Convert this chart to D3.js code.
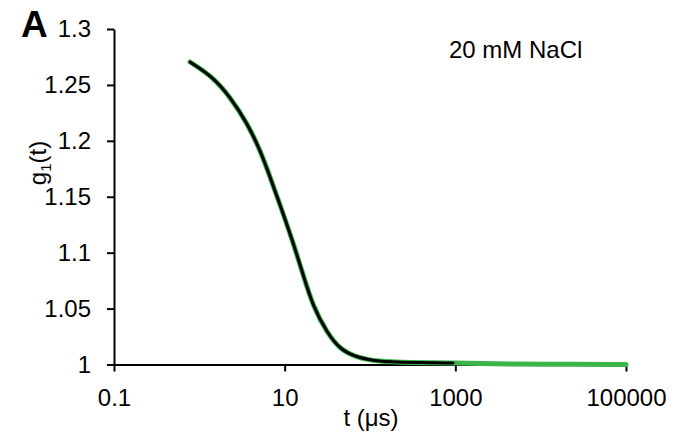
<!DOCTYPE html>
<html>
<head>
<meta charset="utf-8">
<script src="https://cdn.jsdelivr.net/npm/d3@7"></script>
<style>
  html, body { margin: 0; padding: 0; background: #fff; }
  svg { display: block; }
  text { font-family: "Liberation Sans", Arial, Helvetica, sans-serif; fill: #000; }
</style>
</head>
<body>
<svg id="chart" width="681" height="432"></svg>
<script>
// Measured correlation data (black) and fit (green)
const tData = [0.778, 1.446, 2.29, 3.62, 5.14, 6.73, 8.82, 12.5, 16.4, 21.5, 31.3, 44.5, 70.5, 121, 294, 940];
const gData = [1.2705, 1.2571, 1.2393, 1.2161, 1.192, 1.1679, 1.1429, 1.1096, 1.0806, 1.0518, 1.0286, 1.0134, 1.0063, 1.0027, 1.0018, 1.0013];
const tFit = [0.778, 1.446, 2.29, 3.62, 5.14, 6.73, 8.82, 12.5, 16.4, 21.5, 31.3, 44.5, 70.5, 121, 294, 940, 3000, 10000, 100000];
const gFit = [1.2705, 1.2571, 1.2393, 1.2161, 1.192, 1.1679, 1.1429, 1.1096, 1.0806, 1.0518, 1.0286, 1.0134, 1.0063, 1.0027, 1.0018, 1.0013, 1.0006, 1.0002, 1.0000];

const xTicks = [0.1, 10, 1000, 100000];
const xTickLabels = ["0.1", "10", "1000", "100000"];
const yTicks = [1, 1.05, 1.1, 1.15, 1.2, 1.25, 1.3];
const yTickLabels = ["1", "1.05", "1.1", "1.15", "1.2", "1.25", "1.3"];

const panelLabel = "A";
const conditionLabel = "20 mM NaCl";
const xLabel = "t (\u03bcs)";

const svg = d3.select("#chart");
const x = d3.scaleLog().domain([0.1, 100000]).range([114, 626]);
const y = d3.scaleLinear().domain([1, 1.3]).range([364.5, 29]);

// Axes
const xAxis = d3.axisBottom(x).tickValues(xTicks)
  .tickFormat((d, i) => xTickLabels[i]).tickSize(7).tickSizeOuter(0).tickPadding(17);
const yAxis = d3.axisLeft(y).tickValues(yTicks)
  .tickFormat((d, i) => yTickLabels[i]).tickSize(7).tickSizeOuter(0).tickPadding(16);

const gx = svg.append("g").attr("transform", `translate(0,${y(1)})`).call(xAxis);
const gy = svg.append("g").attr("transform", `translate(${x(0.1)},0)`).call(yAxis);

[gx, gy].forEach(g => {
  g.selectAll("path.domain").attr("stroke", "#000").attr("stroke-width", 2);
  g.selectAll(".tick line").attr("stroke", "#000").attr("stroke-width", 2);
  g.selectAll(".tick text").attr("font-size", 24)
    .attr("font-family", "'Liberation Sans', Arial, sans-serif").attr("fill", "#000");
});

// Lines
const lineFit = d3.line().x((d, i) => x(tFit[i])).y((d, i) => y(gFit[i])).curve(d3.curveBasis);
const lineData = d3.line().x((d, i) => x(tData[i])).y((d, i) => y(gData[i])).curve(d3.curveBasis);

svg.append("path").datum(gFit).attr("d", lineFit)
  .attr("fill", "none").attr("stroke", "#3cb44a").attr("stroke-width", 5)
  .attr("stroke-linecap", "round");
svg.append("path").datum(gData).attr("d", lineData)
  .attr("fill", "none").attr("stroke", "#000").attr("stroke-width", 3)
  .attr("stroke-linecap", "round");

// Texts
svg.append("text").attr("x", 21).attr("y", 37)
  .attr("font-size", 37).attr("font-weight", "bold").text(panelLabel);

svg.append("text").attr("x", 449).attr("y", 58)
  .attr("font-size", 24).text(conditionLabel);

svg.append("text").attr("x", 371).attr("y", 426)
  .attr("text-anchor", "middle").attr("font-size", 24).text(xLabel);

const yl = svg.append("text")
  .attr("transform", "translate(46,163) rotate(-90)")
  .attr("text-anchor", "middle").attr("font-size", 24);
yl.append("tspan").text("g");
yl.append("tspan").attr("font-size", 15).attr("dy", 5).text("1");
yl.append("tspan").attr("dy", -5).text("(t)");
</script>
</body>
</html>
